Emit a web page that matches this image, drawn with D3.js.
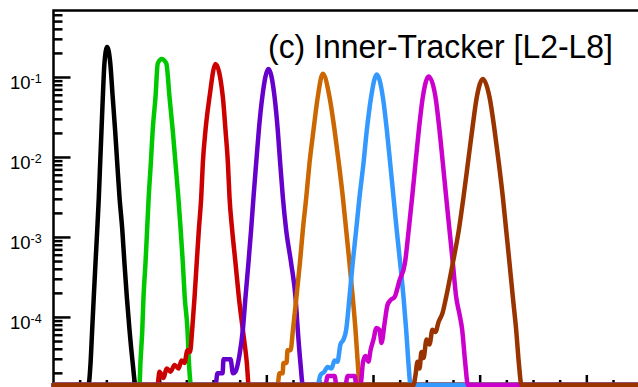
<!DOCTYPE html>
<html>
<head>
  <meta charset="utf-8">
  <title>Inner-Tracker [L2-L8]</title>
  <style>
    body { margin: 0; background: #fff; }
    svg { display: block; }
    text { font-family: "Liberation Sans", Arial, Helvetica, sans-serif; fill: #000; }
    .hist { fill: none; stroke-width: 4.5; stroke-linejoin: round; stroke-linecap: round; }
    .tick { stroke: #000; stroke-width: 2.5; }
  </style>
</head>
<body>
  <svg id="canvas" width="638" height="387"></svg>
  <script src="https://cdn.jsdelivr.net/npm/d3@7"></script>
  <script>
    // bin position / content, one pair of arrays per layer
    const blackX = [13.1, 13.9, 14.5, 15.1, 15.75, 16.4, 17.0, 17.5, 18.0, 18.5, 19.1, 20.1, 21.3, 22.2, 23.1, 23.9, 24.75, 25.8, 26.6, 27.5, 28.5, 29.7, 30.75];
    const blackV = [0, 2.7e-5, 7e-5, 1.8e-4, 4.8e-4, 1.24e-3, 3.2e-3, 8.5e-3, 0.022, 0.057, 0.15, 0.24, 0.15, 0.057, 0.022, 8.5e-3, 3.2e-3, 1.24e-3, 4.8e-4, 1.8e-4, 7e-5, 2.7e-5, 0];

    const greenX = [32.25, 32.6, 33.3, 33.75, 34.5, 35.1, 35.7, 36.5, 37.2, 38.25, 39.1, 40.6, 42.3, 43.5, 44.7, 45.75, 46.8, 47.7, 48.5, 49.2, 50.25, 50.8, 51.6];
    const greenV = [0, 2.7e-5, 7e-5, 1.8e-4, 4.8e-4, 1.24e-3, 3.2e-3, 8.5e-3, 0.022, 0.057, 0.15, 0.17, 0.15, 0.057, 0.022, 8.5e-3, 3.2e-3, 1.24e-3, 4.8e-4, 1.8e-4, 7e-5, 2.7e-5, 0];

    const redX = [39, 39.75, 41.25, 42.4, 43.9, 45.4, 46.9, 48, 49.1, 50.25, 51.2, 52.0, 52.9, 53.7, 54.5, 55.4, 56.0, 57.0, 58.5, 60.75, 63.5, 64.5, 65.4, 66, 67.0, 68.25, 69.5, 71.0, 72.5, 73.2];
    const redV = [0, 2.1e-5, 1.75e-5, 2.3e-5, 2.1e-5, 2.55e-5, 2.3e-5, 2.9e-5, 2.7e-5, 3.9e-5, 3.7e-5, 7e-5, 1.8e-4, 4.8e-4, 1.24e-3, 3.2e-3, 8.5e-3, 0.022, 0.057, 0.148, 0.057, 0.022, 8.5e-3, 3.2e-3, 1.24e-3, 4.8e-4, 1.8e-4, 7e-5, 2.7e-5, 0];

    const purpleX = [60.75, 61.5, 63.4, 63.75, 66.4, 67.3, 68.25, 69.75, 71.0, 72.0, 73.1, 74.1, 75.0, 76.0, 77.0, 78.3, 80.6, 82.9, 84.1, 85.0, 86.0, 87.25, 89.1, 90.75, 91.6, 92.6, 93.5];
    const purpleV = [0, 2e-5, 2e-5, 3e-5, 3e-5, 2e-5, 2.1e-5, 3.4e-5, 7e-5, 1.8e-4, 4.8e-4, 1.24e-3, 3.2e-3, 8.5e-3, 0.022, 0.057, 0.128, 0.057, 0.022, 8.5e-3, 3.2e-3, 1.24e-3, 4.8e-4, 1.8e-4, 7e-5, 2.7e-5, 0];

    const orangeX = [84, 84.75, 85.9, 86.25, 87.4, 87.75, 88.9, 89.8, 91.1, 92.4, 93.5, 94.8, 96.0, 97.5, 99.1, 101.0, 103.5, 105.4, 107.0, 108.5, 109.75, 111.0, 112.2, 113.25, 114.1, 114.75];
    const orangeV = [0, 2e-5, 2e-5, 2.7e-5, 2.7e-5, 3.9e-5, 3.9e-5, 7e-5, 1.8e-4, 4.8e-4, 1.24e-3, 3.2e-3, 8.5e-3, 0.022, 0.057, 0.111, 0.057, 0.022, 8.5e-3, 3.2e-3, 1.24e-3, 4.8e-4, 1.8e-4, 7e-5, 2.7e-5, 0];

    const blueX = [99, 100.1, 101.6, 102.75, 104.25, 105.4, 106.5, 107.6, 108.75, 109.75, 111.0, 112.2, 113.5, 114.75, 116.25, 117.5, 119.1, 121.2, 123.5, 125.0, 126.25, 127.5, 128.7, 130.0, 131.25, 132.25, 133.1, 133.9];
    const blueV = [0, 1.9e-5, 2.1e-5, 2.4e-5, 2.3e-5, 2.9e-5, 2.8e-5, 4.6e-5, 5.3e-5, 7e-5, 1.8e-4, 4.8e-4, 1.24e-3, 3.2e-3, 8.5e-3, 0.022, 0.057, 0.109, 0.057, 0.022, 8.5e-3, 3.2e-3, 1.24e-3, 4.8e-4, 1.8e-4, 7e-5, 2.7e-5, 0];

    const magentaX = [102, 102.75, 105.4, 106.1, 109.5, 110.25, 112.9, 113.6, 115.1, 116.1, 117, 118.1, 118.9, 120, 121.1, 122.25, 123, 124.1, 125.25, 126.4, 127.9, 129.75, 131.8, 133.2, 134.5, 135.75, 137.0, 138.5, 140.7, 143.25, 144.75, 146, 147.25, 148.5, 149.75, 151, 152.25, 153.25, 154.4, 155.4];
    const magentaV = [0, 1.85e-5, 1.85e-5, 0, 0, 1.85e-5, 1.85e-5, 0, 0, 2.8e-5, 3.3e-5, 2.8e-5, 3.9e-5, 5.3e-5, 7.4e-5, 7e-5, 4.8e-5, 8.2e-5, 1.43e-4, 1.65e-4, 1.8e-4, 2.9e-4, 4.8e-4, 1.24e-3, 3.2e-3, 8.5e-3, 0.022, 0.057, 0.103, 0.057, 0.022, 8.5e-3, 3.2e-3, 1.24e-3, 4.8e-4, 1.8e-4, 1.1e-4, 7e-5, 2.7e-5, 0];

    const brownX = [135, 135.75, 136.5, 137.25, 138, 138.75, 139.9, 141, 142.1, 143.25, 144.4, 145.9, 147.25, 149.75, 152, 153.75, 155.4, 157.0, 158.75, 161.0, 163.5, 165.4, 167.0, 168.5, 169.75, 171, 172.25, 173.5, 174.5, 175.5];
    const brownV = [0, 1.9e-5, 2.8e-5, 2.3e-5, 3.7e-5, 3.1e-5, 5.3e-5, 4.6e-5, 7e-5, 6.6e-5, 8.8e-5, 1.14e-4, 1.8e-4, 4.8e-4, 1.24e-3, 3.2e-3, 8.5e-3, 0.022, 0.057, 0.096, 0.057, 0.022, 8.5e-3, 3.2e-3, 1.24e-3, 4.8e-4, 1.8e-4, 7e-5, 2.7e-5, 0];

    const layerX = [blackX, greenX, redX, purpleX, orangeX, blueX, magentaX, brownX];
    const layerV = [blackV, greenV, redV, purpleV, orangeV, blueV, magentaV, brownV];
    const layerColors = ["#000000", "#00c800", "#cc0000", "#6600cc", "#cc6600", "#3399ff", "#cc00cc", "#993300"];

    const xDomain = [0, 240];
    const yDomain = [1.43e-5, 0.688];
    const yMajor = [1e-4, 1e-3, 1e-2, 1e-1];
    const title = "(c) Inner-Tracker [L2-L8]";

    const frame = { left: 53.5, top: 10.5, right: 693.5, bottom: 385 };

    const svg = d3.select("#canvas");

    const x = d3.scaleLinear().domain(xDomain).range([frame.left, frame.right]);
    const y = d3.scaleLog().domain(yDomain).range([frame.bottom, frame.top]);
    // empty bins sit on the bottom of the frame, like ROOT does in log mode
    const yv = v => v <= yDomain[0] ? y(yDomain[0]) : y(v);

    // frame
    svg.append("path")
      .attr("d", `M${frame.right},${frame.top}H${frame.left}V${frame.bottom}H${frame.right}`)
      .attr("fill", "none")
      .attr("stroke", "#000")
      .attr("stroke-width", 2.5);

    // y ticks (inside, on the left)
    const yMinor = [];
    for (let k = -5; k <= -1; k++) {
      for (let m = 2; m <= 9; m++) {
        const v = m * Math.pow(10, k);
        if (v > yDomain[0] && v < yDomain[1]) yMinor.push(v);
      }
    }
    svg.append("g").selectAll("line")
      .data(yMajor.map(v => ({ v, len: 17 })).concat(yMinor.map(v => ({ v, len: 9 }))))
      .join("line")
      .attr("class", "tick")
      .attr("x1", frame.left)
      .attr("x2", t => frame.left + t.len)
      .attr("y1", t => y(t.v))
      .attr("y2", t => y(t.v));

    // x ticks (inside, at the bottom)
    const xTicks = d3.range(10, xDomain[1], 10);
    svg.append("g").selectAll("line")
      .data(xTicks)
      .join("line")
      .attr("class", "tick")
      .attr("x1", d => x(d))
      .attr("x2", d => x(d))
      .attr("y1", frame.bottom)
      .attr("y2", d => frame.bottom - (d % 40 === 0 ? 10 : 5));

    // y tick labels 10^n
    const ylab = svg.append("g").selectAll("g")
      .data(yMajor)
      .join("g")
      .attr("transform", d => `translate(0,${y(d)})`);
    ylab.append("text")
      .attr("x", 30.5)
      .attr("y", 11.5)
      .attr("text-anchor", "end")
      .style("font-size", "18.5px")
      .text("10");
    ylab.append("text")
      .attr("x", 30.5)
      .attr("y", 5.5)
      .style("font-size", "12.5px")
      .text(d => "-" + Math.round(-Math.log10(d)));

    // histograms, zero bins run along the bottom to both edges
    const line = d3.line()
      .x(p => x(p[0]))
      .y(p => yv(p[1]))
      .curve(d3.curveMonotoneX);

    svg.append("g").selectAll("path")
      .data(layerX.map((xs, i) => [[xDomain[0], 0]].concat(xs.map((xv, j) => [xv, layerV[i][j]]), [[xDomain[1], 0]])))
      .join("path")
      .attr("class", "hist")
      .attr("stroke", (_, i) => layerColors[i])
      .attr("d", line);

    svg.append("text")
      .attr("x", 268)
      .attr("y", 58)
      .attr("textLength", 345)
      .attr("lengthAdjust", "spacingAndGlyphs")
      .style("font-size", "34px")
      .text(title);
  </script>
</body>
</html>
